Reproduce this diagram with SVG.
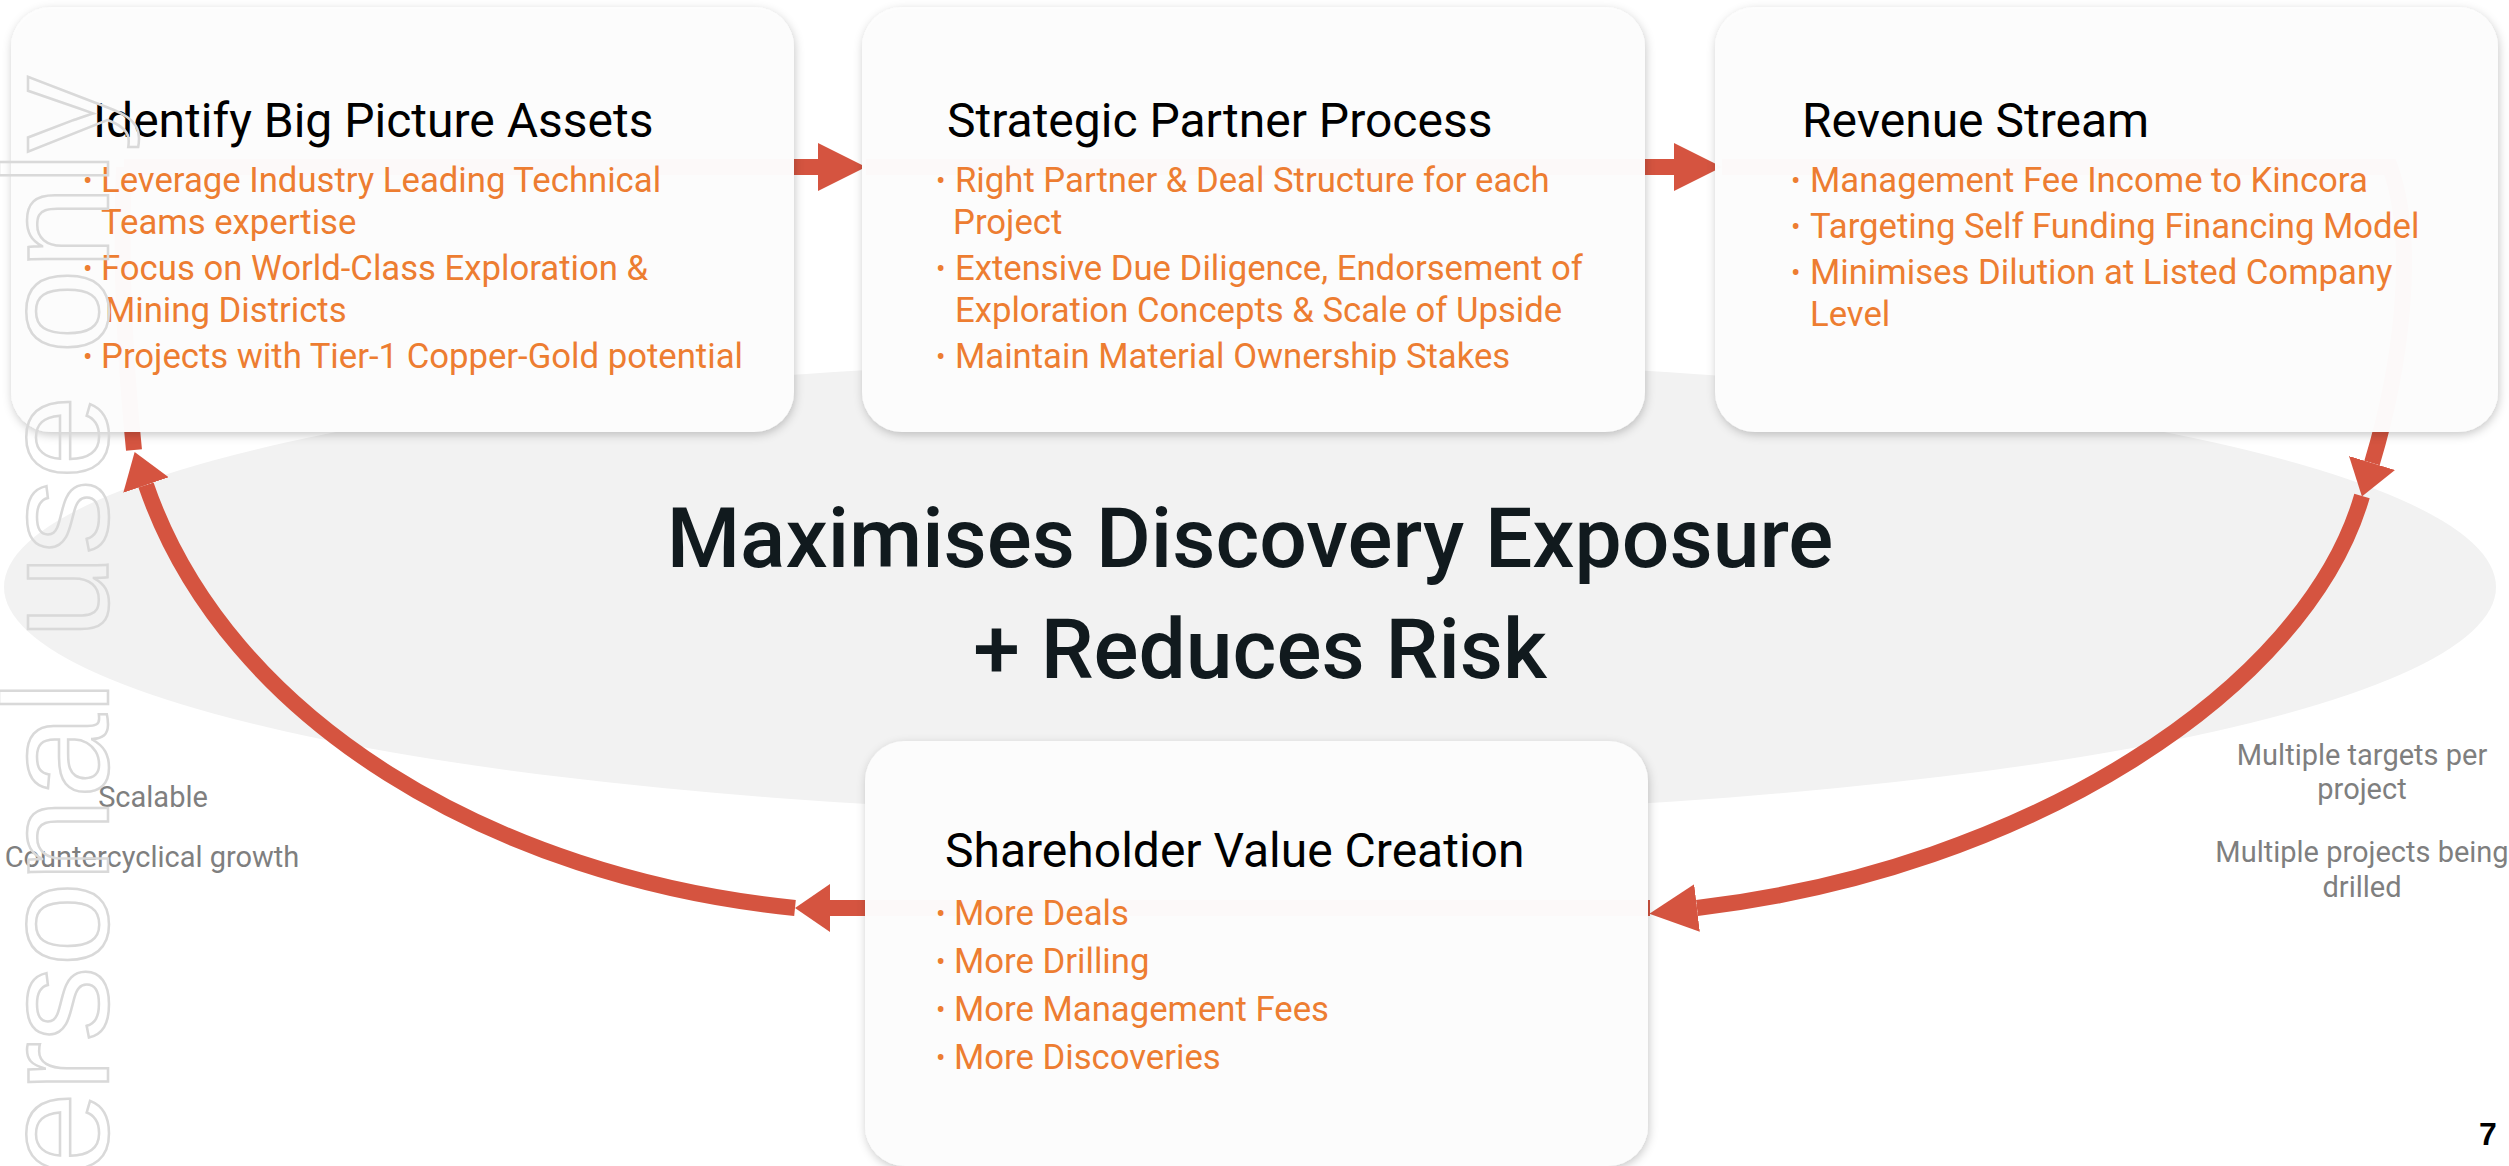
<svg xmlns="http://www.w3.org/2000/svg" width="2509" height="1166" viewBox="0 0 2509 1166">
  <style>
    .box { fill: #fdfdfd; fill-opacity: 0.975; filter: url(#shadow); }
    .title { font-family: Roboto, "Liberation Sans", sans-serif; font-size: 48px; fill: #000000; }
    .item { font-family: Roboto, "Liberation Sans", sans-serif; font-size: 34.7px; fill: #ed7d31; }
    .dot { font-family: Roboto, "Liberation Sans", sans-serif; font-size: 28px; fill: #ed7d31; }
    .side { font-family: Roboto, "Liberation Sans", sans-serif; font-size: 29px; fill: #7f7f7f; text-anchor: middle; }
    .headline { font-family: Roboto, "Liberation Sans", sans-serif; font-size: 84px; font-weight: 500; fill: #111a1e; text-anchor: middle; }
    .flow { fill: none; stroke: #d55440; stroke-width: 16; stroke-linecap: butt; }
    .mark { font-family: "Liberation Sans", Arial, sans-serif; font-size: 151px; fill: none; stroke: #d9d9d9; stroke-width: 2.5; }
  </style>
  <defs>
    <filter id="shadow" x="-5%" y="-5%" width="110%" height="115%">
      <feDropShadow dx="1" dy="3" stdDeviation="5" flood-color="#000000" flood-opacity="0.22"/>
    </filter>
    <marker id="headEnd" markerUnits="userSpaceOnUse" viewBox="0 0 48 48" markerWidth="48" markerHeight="48" refX="0" refY="24" orient="auto">
      <path d="M0 0 L48 24 L0 48 Z" fill="#d55440"/>
    </marker>
    <marker id="headMid" markerUnits="userSpaceOnUse" viewBox="0 0 35 48" markerWidth="35" markerHeight="48" refX="0" refY="24" orient="auto">
      <path d="M0 0 L35 24 L0 48 Z" fill="#d55440"/>
    </marker>
  </defs>

  <rect x="0" y="0" width="2509" height="1166" fill="#ffffff"/>

  <!-- backdrop ellipse -->
  <ellipse cx="1250" cy="587" rx="1246" ry="228" fill="#f2f2f2"/>

  <!-- cycle connectors (run behind the translucent cards) -->
  <g id="connectors">
    <path class="flow" d="M124 167 H818" marker-end="url(#headEnd)"/>
    <path class="flow" d="M866 167 H1674" marker-end="url(#headEnd)"/>
    <path class="flow" d="M1722 167 H2390 C2418 245 2400 370 2372 463" marker-end="url(#headMid)"/>
    <path class="flow" d="M2362 496 C2306 690 2027 869 1697 908" marker-end="url(#headEnd)"/>
    <path class="flow" d="M1650 908 H830" marker-end="url(#headMid)"/>
    <path class="flow" d="M795 908 C495 878 227 721 146 485" marker-end="url(#headMid)"/>
    <path class="flow" d="M134 450 C125 360 120 260 124 167"/>
  </g>

  <g id="node-assets">
    <rect class="box" x="11" y="7" width="783" height="425" rx="40"/>
    <text class="title" x="93" y="137">Identify Big Picture Assets</text>
    <text class="dot" x="83" y="190">•</text>
    <text class="item" x="101" y="192">Leverage Industry Leading Technical</text>
    <text class="item" x="101" y="234">Teams expertise</text>
    <text class="dot" x="83" y="278">•</text>
    <text class="item" x="101" y="280">Focus on World-Class Exploration &amp;</text>
    <text class="item" x="105" y="322">Mining Districts</text>
    <text class="dot" x="83" y="366">•</text>
    <text class="item" x="101" y="368">Projects with Tier-1 Copper-Gold potential</text>
  </g>

  <g id="node-partner">
    <rect class="box" x="862" y="7" width="783" height="425" rx="40"/>
    <text class="title" x="947" y="137">Strategic Partner Process</text>
    <text class="dot" x="936" y="190">•</text>
    <text class="item" x="955" y="192">Right Partner &amp; Deal Structure for each</text>
    <text class="item" x="953" y="234">Project</text>
    <text class="dot" x="936" y="278">•</text>
    <text class="item" x="955" y="280">Extensive Due Diligence, Endorsement of</text>
    <text class="item" x="955" y="322">Exploration Concepts &amp; Scale of Upside</text>
    <text class="dot" x="936" y="366">•</text>
    <text class="item" x="955" y="368">Maintain Material Ownership Stakes</text>
  </g>

  <g id="node-revenue">
    <rect class="box" x="1715" y="7" width="783" height="425" rx="40"/>
    <text class="title" x="1802" y="137">Revenue Stream</text>
    <text class="dot" x="1791" y="190">•</text>
    <text class="item" x="1810" y="192">Management Fee Income to Kincora</text>
    <text class="dot" x="1791" y="236">•</text>
    <text class="item" x="1810" y="238">Targeting Self Funding Financing Model</text>
    <text class="dot" x="1791" y="282">•</text>
    <text class="item" x="1810" y="284">Minimises Dilution at Listed Company</text>
    <text class="item" x="1810" y="326">Level</text>
  </g>

  <g id="node-shareholder">
    <rect class="box" x="865" y="741" width="783" height="425" rx="40"/>
    <text class="title" x="945" y="867">Shareholder Value Creation</text>
    <text class="dot" x="936" y="923">•</text>
    <text class="item" x="954" y="925">More Deals</text>
    <text class="dot" x="936" y="971">•</text>
    <text class="item" x="954" y="973">More Drilling</text>
    <text class="dot" x="936" y="1019">•</text>
    <text class="item" x="954" y="1021">More Management Fees</text>
    <text class="dot" x="936" y="1067">•</text>
    <text class="item" x="954" y="1069">More Discoveries</text>
  </g>

  <g id="headline">
    <text class="headline" x="1250" y="567">Maximises Discovery Exposure</text>
    <text class="headline" x="1260" y="678">+ Reduces Risk</text>
  </g>

  <g id="notes-left">
    <text class="side" x="153" y="807">Scalable</text>
    <text class="side" x="152" y="867">Countercyclical growth</text>
  </g>

  <g id="notes-right">
    <text class="side" x="2362" y="765">Multiple targets per</text>
    <text class="side" x="2362" y="799">project</text>
    <text class="side" x="2362" y="862">Multiple projects being</text>
    <text class="side" x="2362" y="897">drilled</text>
  </g>

  <text class="mark" transform="translate(108 1260) rotate(-90)">personal use only</text>

  <text x="2479" y="1145" font-family="'Liberation Sans', Arial, sans-serif" font-size="32" font-weight="700" fill="#000000">7</text>
</svg>
